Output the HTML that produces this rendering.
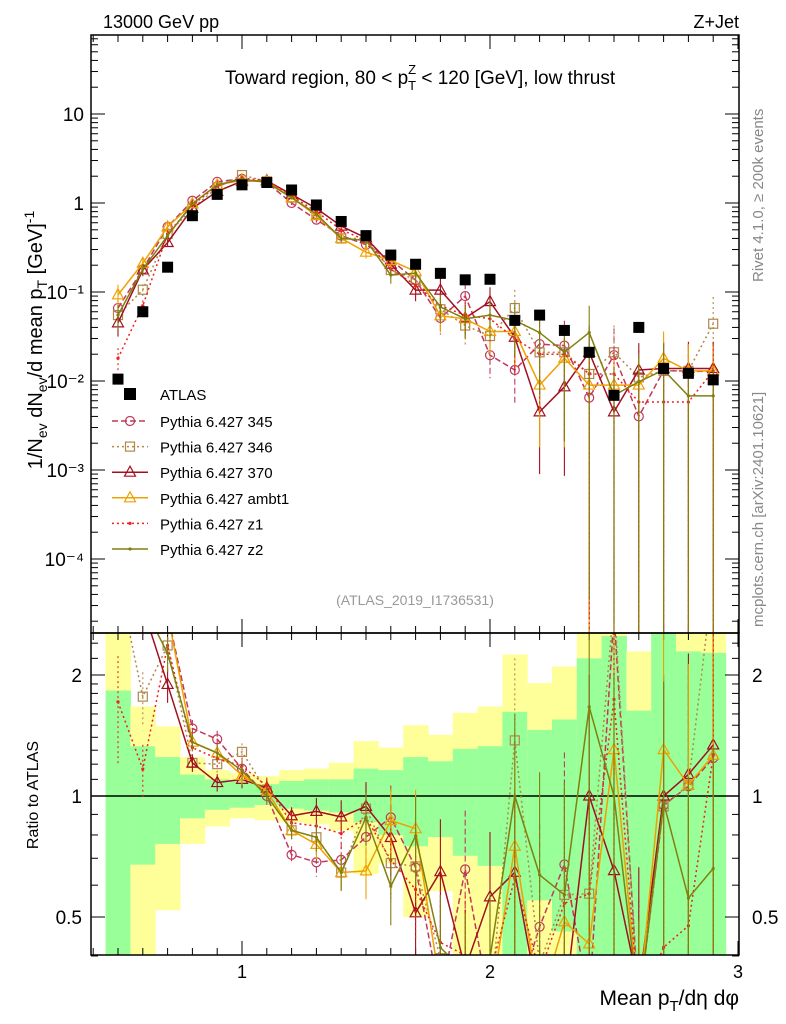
<!DOCTYPE html>
<html><head><meta charset="utf-8"><style>
html,body{margin:0;padding:0;background:#fff;width:786px;height:1024px;overflow:hidden;position:relative;}
svg{display:block;position:absolute;left:0;top:0;overflow:hidden;font-family:"Liberation Sans",Arial,sans-serif;}
</style></head><body>
<svg id="c" width="786" height="1024" viewBox="0 0 786 1024" xmlns="http://www.w3.org/2000/svg">
<defs>
<clipPath id="cm"><rect x="91" y="35" width="648" height="598"/></clipPath>
<clipPath id="cr"><rect x="91" y="633" width="648" height="322"/></clipPath>
</defs>
<g id="bands" clip-path="url(#cr)"></g>
<g id="grid"></g>
<g id="mainMarks" clip-path="url(#cm)"></g>
<g id="ratioMarks" clip-path="url(#cr)"></g>
<rect x="91" y="35" width="648" height="598" fill="none" stroke="#000" stroke-width="1.5"/>
<rect x="91" y="633" width="648" height="322" fill="none" stroke="#000" stroke-width="1.5"/>
<text x="103" y="28" font-size="18">13000 GeV pp</text>
<text x="739" y="28" font-size="18" text-anchor="end">Z+Jet</text>
<text x="420" y="84" font-size="19" text-anchor="middle">Toward region, 80 &lt; p<tspan font-size="13" dy="6">T</tspan><tspan font-size="13" dx="-8" dy="-16">Z</tspan><tspan dy="10"> &lt; 120 [GeV], low thrust</tspan></text>
<text transform="translate(42,340) rotate(-90)" font-size="20" text-anchor="middle">1/N<tspan font-size="14" dy="5">ev</tspan><tspan dy="-5"> dN</tspan><tspan font-size="14" dy="5">ev</tspan><tspan dy="-5">/d mean p</tspan><tspan font-size="14" dy="5">T</tspan><tspan dy="-5"> [GeV]</tspan><tspan font-size="14" dy="-8">-1</tspan></text>
<text transform="translate(38,795) rotate(-90)" font-size="16" text-anchor="middle">Ratio to ATLAS</text>
<text x="739" y="1005" font-size="21" text-anchor="end">Mean p<tspan font-size="15" dy="6">T</tspan><tspan dy="-6">/dη dφ</tspan></text>
<text transform="translate(763,282) rotate(-90)" font-size="15" fill="#888">Rivet 4.1.0, ≥ 200k events</text>
<text transform="translate(763,627) rotate(-90)" font-size="15" fill="#888">mcplots.cern.ch [arXiv:2401.10621]</text>
<text x="415" y="605" font-size="14" fill="#999" text-anchor="middle">(ATLAS_2019_I1736531)</text>
<g id="legend"></g>
</svg>
<script>
const xs=[0.5,0.6,0.7,0.8,0.9,1.0,1.1,1.2,1.3,1.4,1.5,1.6,1.7,1.8,1.9,2.0,2.1,2.2,2.3,2.4,2.5,2.6,2.7,2.8,2.9];
const atlas=[0.0105,0.06,0.19,0.72,1.25,1.6,1.7,1.4,0.95,0.62,0.43,0.26,0.205,0.162,0.137,0.139,0.048,0.055,0.037,0.021,0.0069,0.04,0.0138,0.0122,0.0103];
const p345=[0.066,0.18,0.54,1.06,1.73,1.87,1.7,1.0,0.65,0.43,0.34,0.23,0.136,0.051,0.09,0.0195,0.0133,0.026,0.025,0.0065,0.0195,0.004,0.0131,0.0129,0.0128];
const p346=[0.055,0.106,0.45,0.87,1.5,2.06,1.75,1.15,0.75,0.4,0.4,0.177,0.137,0.064,0.042,0.032,0.066,0.021,0.021,0.012,0.021,0.011,0.013,0.013,0.044];
const p370=[0.045,0.177,0.36,0.87,1.35,1.76,1.78,1.25,0.87,0.55,0.405,0.205,0.105,0.105,0.051,0.078,0.031,0.0045,0.0086,0.021,0.0045,0.0133,0.0138,0.0138,0.0138];
const pambt1=[0.093,0.21,0.54,0.98,1.6,1.8,1.75,1.15,0.72,0.4,0.28,0.226,0.17,0.054,0.05,0.036,0.036,0.009,0.018,0.009,0.009,0.009,0.018,0.013,0.013];
const pz1=[0.018,0.07,0.45,0.95,1.55,1.9,1.8,1.2,0.8,0.5,0.38,0.18,0.12,0.07,0.055,0.05,0.03,0.02,0.02,0.012,0.012,0.0058,0.0058,0.0058,0.013];
const pz2=[0.055,0.18,0.43,0.98,1.6,1.85,1.7,1.15,0.75,0.4,0.38,0.155,0.163,0.068,0.05,0.055,0.048,0.035,0.021,0.035,0.0069,0.0098,0.0133,0.0068,0.0068];
const errRel=[0.3,0.15,0.1,0.05,0.05,0.05,0.05,0.05,0.08,0.1,0.15,0.2,0.25,0.35,0.4,0.45,0.6,0.8,0.9,1,1,1,1,1,1];
const greenUp=[1.83,1.33,1.25,1.13,1.1,1.09,1.07,1.09,1.1,1.1,1.17,1.16,1.25,1.22,1.31,1.33,1.62,1.46,1.55,2.2,2.5,1.63,3,2.29,2.27];
const greenDn=[0.3,0.675,0.76,0.88,0.924,0.935,0.95,0.93,0.92,0.91,0.86,0.8,0.75,0.79,0.71,0.67,0.3,0.55,0.46,0.3,0.3,0.3,0.3,0.3,0.3];
const yelUp=[3,1.67,1.49,1.25,1.16,1.14,1.12,1.16,1.17,1.21,1.37,1.32,1.5,1.42,1.61,1.67,2.25,1.91,2.1,3,3,2.29,3,3,3];
const yelDn=[0.3,0.3,0.52,0.76,0.84,0.88,0.87,0.86,0.85,0.82,0.64,0.68,0.5,0.58,0.3,0.3,0.3,0.3,0.3,0.3,0.3,0.3,0.3,0.3,0.3];
const ticksY=["10","1","10\u207B\u00B9","10\u207B\u00B2","10\u207B\u00B3","10\u207B\u2074"];

const NS="http://www.w3.org/2000/svg";
const X=v=>242+248*(v-1);
const Y=v=>203-89*Math.log10(v);
const R=v=>796-121*Math.log2(Math.min(3.5,Math.max(0.3,v)));
const clampY=(y,a,b)=>Math.min(b,Math.max(a,y));
function mk(tag,at,par){const e=document.createElementNS(NS,tag);for(const k in at)e.setAttribute(k,at[k]);par.appendChild(e);return e;}
const grid=document.getElementById('grid'),bands=document.getElementById('bands'),mm=document.getElementById('mainMarks'),rm=document.getElementById('ratioMarks'),leg=document.getElementById('legend');

xs.forEach((x,i)=>{
 const y1=clampY(R(yelUp[i]),633,955),y2=clampY(R(yelDn[i]),633,955);
 let r=mk('rect',{x:X(x-0.05),y:y1,width:248*0.1+0.5,height:y2-y1,fill:'#ffff99'},bands);
 
 
 const g1=clampY(R(greenUp[i]),633,955),g2=clampY(R(greenDn[i]),633,955);
 let g=mk('rect',{x:X(x-0.05),y:g1,width:248*0.1+0.5,height:g2-g1,fill:'#99ff99'},bands);
 
 
});
let one=mk('line',{x1:91,x2:739,y1:R(1),y2:R(1),stroke:'#000','stroke-width':1.5},bands);



for(let k=4;k<=30;k++){const v=k/10,px=X(v);if(px<91||px>739)continue;const maj=k%10==0;
 for(const [yb,dir] of [[955,-1],[633,1],[633,-1],[35,1]]){mk('line',{x1:px,x2:px,y1:yb,y2:yb+dir*(maj?14:7),stroke:'#000'},grid);}
 if(maj){let t=mk('text',{x:px,y:978,'font-size':18,'text-anchor':'middle'},grid);t.textContent=String(k/10);
 
 }
}
for(let d=-5;d<=1;d++){for(let m=1;m<10;m++){const v=m*Math.pow(10,d),py=Y(v);if(py<35||py>633)continue;const L=m==1?14:7;
 mk('line',{x1:91,x2:91+L,y1:py,y2:py,stroke:'#000'},grid);mk('line',{x1:739,x2:739-L,y1:py,y2:py,stroke:'#000'},grid);}}
ticksY.forEach((s,i)=>{const py=Y(Math.pow(10,1-i));let t=mk('text',{x:84,y:py+7,'font-size':19,'text-anchor':'end'},grid);t.textContent=s;
 
 });
[0.4,0.5,0.6,0.7,0.8,0.9,1,1.1,1.2,1.3,1.4,1.5,1.6,1.7,1.8,1.9,2,2.2,2.4].forEach(v=>{const py=R(v);const maj=(v==0.5||v==1||v==2);const L=maj?14:7;
 mk('line',{x1:91,x2:91+L,y1:py,y2:py,stroke:'#000'},grid);mk('line',{x1:739,x2:739-L,y1:py,y2:py,stroke:'#000'},grid);
 if(maj){for(const [xx,a] of [[82,'end'],[752,'start']]){let t=mk('text',{x:xx,y:py+7,'font-size':19,'text-anchor':a},grid);t.textContent=String(v);
 
 }}});

const series=[
 {name:'Pythia 6.427 345',d:p345,c:'#c0385a',dash:'6,3',m:'circle'},
 {name:'Pythia 6.427 346',d:p346,c:'#b08848',dash:'2,3',m:'square'},
 {name:'Pythia 6.427 370',d:p370,c:'#a01020',dash:'',m:'tri'},
 {name:'Pythia 6.427 ambt1',d:pambt1,c:'#f0a000',dash:'',m:'tri'},
 {name:'Pythia 6.427 z1',d:pz1,c:'#ee2020',dash:'2,3',m:'dot'},
 {name:'Pythia 6.427 z2',d:pz2,c:'#808010',dash:'',m:'dot'}];
function marker(m,x,y,c,par,s){
 if(m=='circle')return mk('circle',{cx:x,cy:y,r:4.5*s,fill:'none',stroke:c,'stroke-width':1.2},par);
 if(m=='square')return mk('rect',{x:x-4.5*s,y:y-4.5*s,width:9*s,height:9*s,fill:'none',stroke:c,'stroke-width':1.2},par);
 if(m=='tri')return mk('path',{d:`M${x},${y-6*s}L${x+5.5*s},${y+4*s}L${x-5.5*s},${y+4*s}Z`,fill:'none',stroke:c,'stroke-width':1.2},par);
 return mk('circle',{cx:x,cy:y,r:1.6,fill:c},par);
}
series.forEach((s,si)=>{
 for(const [par,fy,vals,top,bot] of [[mm,Y,s.d,35,633],[rm,R,s.d.map((v,i)=>v/atlas[i]),633,955]]){
  const pts=xs.map((x,i)=>X(x)+','+fy(vals[i])).join(' ');
  let pl=mk('polyline',{points:pts,fill:'none',stroke:s.c,'stroke-width':1.5,'stroke-dasharray':s.dash},par);
  
  
  xs.forEach((x,i)=>{const v=vals[i],e=errRel[i];const lo=e>=1?v*0.001:v*(1-e);
   mk('line',{x1:X(x),x2:X(x),y1:clampY(fy(v*(1+e)),top,bot),y2:clampY(fy(lo),top,bot),stroke:s.c,'stroke-width':1.1,'stroke-dasharray':s.dash},par);
   let mkk=marker(s.m,X(x),fy(v),s.c,par,1);
   
   });
 }
 const ly=421+si*25.6;
 mk('line',{x1:112,x2:148,y1:ly,y2:ly,stroke:s.c,'stroke-width':1.5,'stroke-dasharray':s.dash},leg);
 marker(s.m,130,ly,s.c,leg,1);
 let t=mk('text',{x:160,y:ly+6,'font-size':15},leg);t.textContent=s.name;
 
 
});
xs.forEach((x,i)=>{let r=mk('rect',{x:X(x)-5.5,y:Y(atlas[i])-5.5,width:11,height:11,fill:'#000'},mm);
 
 });
mk('rect',{x:124,y:388,width:12,height:12,fill:'#000'},leg);
let at=mk('text',{x:160,y:400,'font-size':15},leg);at.textContent='ATLAS';


</script>
</body></html>
